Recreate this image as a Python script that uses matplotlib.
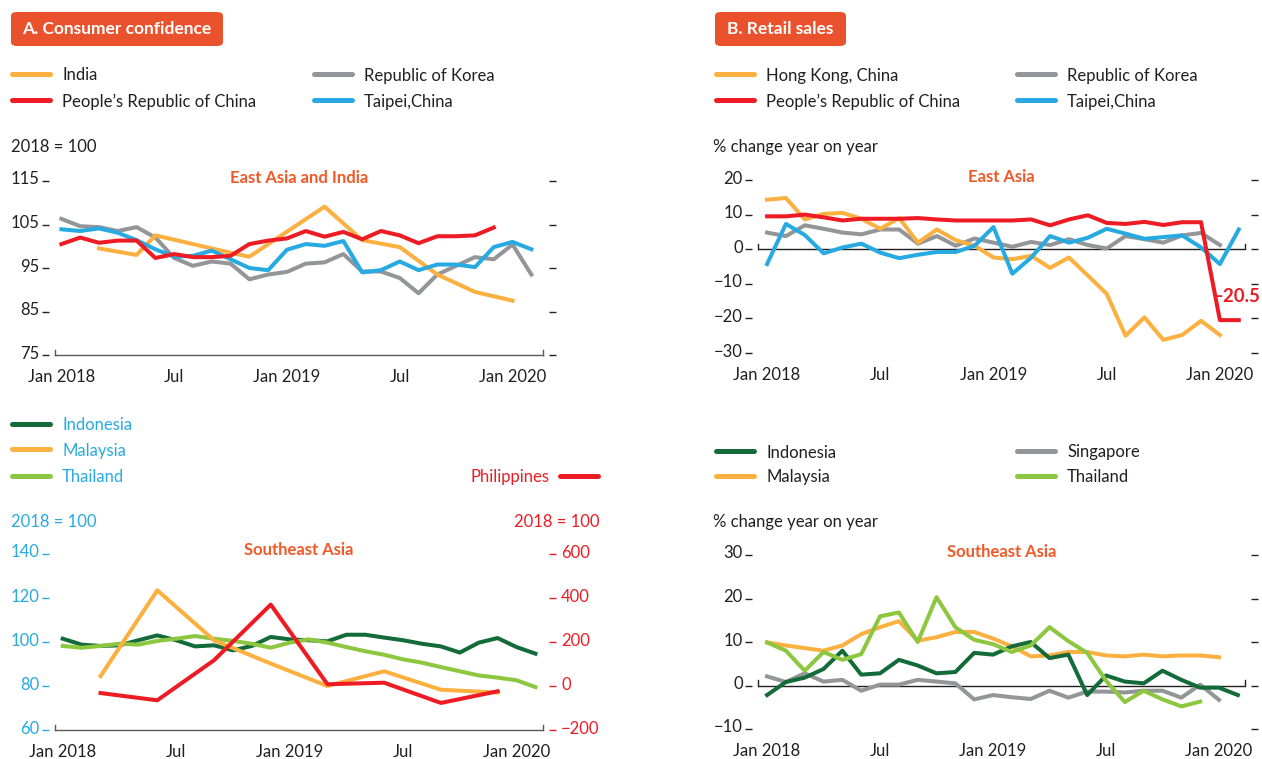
import numpy as np
import matplotlib
matplotlib.use("Agg")
import matplotlib.pyplot as plt
from matplotlib.lines import Line2D
from matplotlib.patches import FancyBboxPatch
from matplotlib.transforms import blended_transform_factory, ScaledTranslation

plt.rcParams['font.family'] = ['Lato', 'DejaVu Sans']

# ---- data (month index 0 = Jan 2018) ----
xtick_pos = [0, 6, 12, 18, 24]
xtick_labels = ['Jan 2018', 'Jul', 'Jan 2019', 'Jul', 'Jan 2020']

# A. consumer confidence, East Asia and India (2018 = 100)
india_m = [2, 4, 5, 9, 10, 14, 16, 18, 20, 22, 24]
india_cc = [99.5, 98, 102.5, 98.5, 97.6, 109.1, 101.4, 99.8, 93.5, 89.5, 87.5]
prc_cc = [100.5, 102, 100.8, 101.3, 101.3, 97.3, 98.2, 97.5, 97.5, 97.8, 100.5, 101.3,
          101.8, 103.5, 102.2, 103.3, 101.6, 103.5, 102.5, 100.7, 102.3, 102.3, 102.5, 104.3]
korea_cc = [106.3, 104.6, 104.4, 103.5, 104.4, 102, 97.3, 95.5, 96.5, 96, 92.4, 93.5,
            94.1, 96, 96.3, 98.2, 94.2, 94.2, 92.7, 89.2, 93.5, 95.5, 97.5, 97, 100.4, 93.5]
taipei_cc = [103.9, 103.5, 104.1, 103.1, 101.4, 99.3, 97.6, 97.8, 99, 97, 95, 94.5,
             99.2, 100.5, 100.1, 101.2, 94, 94.5, 96.5, 94.5, 95.8, 95.8, 95.2, 99.8, 101, 99.3]

# B. retail sales, East Asia (% yoy)
hk_rs = [14.3, 14.8, 8.6, 10.2, 10.5, 8.8, 5.9, 9, 1.9, 5.7, 2.6, 1, -2.4, -2.9, -1.9,
         -5.4, -2.4, -7.6, -12.9, -25, -19.7, -26.2, -24.8, -20.7, -24.8]
prc_rs = [9.5, 9.5, 10, 9.2, 8.3, 8.8, 8.8, 8.8, 9, 8.6, 8.3, 8.3, 8.3, 8.3, 8.6, 6.9,
          8.6, 9.8, 7.6, 7.3, 7.9, 7, 7.8, 7.8, -20.5, -20.5]
korea_rs = [4.8, 3.8, 6.9, 5.9, 4.8, 4.3, 5.7, 5.7, 1.6, 3.8, 1, 3.1, 1.9, 0.7, 2.1, 1.2,
            2.9, 1.2, 0.2, 3.8, 2.9, 1.9, 4, 4.7, 1.2]
taipei_rs = [-4.3, 7.3, 4.1, -1.2, 0.5, 1.6, -1, -2.6, -1.6, -0.8, -0.8, 1, 6.4, -7.1,
             -2.4, 3.8, 1.9, 3.3, 5.9, 4.5, 3, 3.5, 4, 0.5, -4.3, 5.7]

# C. consumer confidence, Southeast Asia
indo_cc = [101.5, 98.8, 98.2, 98.5, 100.8, 103, 100.8, 98, 98.5, 96.2, 98.2, 102.3, 101.2,
           100.8, 100.3, 103.3, 103.3, 102, 100.8, 99.2, 98, 95.2, 99.7, 101.8, 97.7, 94.7]
thai_cc = [98.2, 97.4, 98.2, 99.2, 98.8, 100.5, 101.5, 102.7, 101.5, 100.5, 99.2, 97.4, 99.7,
           101.2, 99.7, 97.7, 95.8, 94.2, 92.1, 90.6, 88.6, 86.7, 84.8, 83.8, 82.6, 79.5]
quarter_m = [2, 5, 8, 11, 14, 17, 20, 23]
mal_cc = [84.5, 123.5, 100.8, 90.2, 80, 86.7, 78.3, 77]
phl_cc = [-32, -65, 117, 370, 8, 15, -77, -24]

# D. retail sales, Southeast Asia (% yoy)
indo_rs = [-2.2, 0.8, 1.8, 3.8, 8, 2.5, 2.8, 5.9, 4.6, 2.8, 3.1, 7.5, 7.1, 9, 10, 6.3, 7.1,
           -2.2, 2.3, 0.9, 0.5, 3.4, 1.3, -0.5, -0.5, -2.2]
mal_rs = [9.9, 9.2, 8.6, 8, 9.2, 11.8, 13.4, 14.8, 10.3, 11.1, 12.3, 12.3, 10.8, 9, 6.7,
          6.9, 7.7, 7.7, 6.9, 6.7, 7.1, 6.7, 6.9, 6.9, 6.5]
thai_rs = [9.9, 8, 3.4, 7.7, 5.9, 7.2, 15.9, 16.8, 10, 20.3, 13.4, 10.5, 9.5, 7.7, 9.2,
           13.4, 10.2, 7.5, 1.1, -3.8, -1.2, -3.2, -4.8, -3.7]
sing_rs = [2.1, 0.8, 2.8, 0.9, 1.3, -1.2, 0.2, 0.2, 1.3, 0.9, 0.5, -3.2, -2.2, -2.7, -3.1,
           -1.2, -2.8, -1.4, -1.4, -1.6, -1.2, -1.2, -2.8, 0.2, -3.3]

# ---- colours ----
ORANGE = '#FBB040'
RED = '#ED1C24'
GRAY = '#939598'
BLUE = '#27AAE1'
DKGREEN = '#146B3A'
LTGREEN = '#8DC63F'
HEAD = '#E9522C'
TXT = '#231F20'
LW = 2.9

W, H = 1262, 759
fig = plt.figure(figsize=(W / 100, H / 100), dpi=100)
lift = ScaledTranslation(0, 3 / 100, fig.dpi_scale_trans)


def fx(x):
    return x / W


def fy(y):
    return 1 - y / H


def add_axes(l, t, r, b):
    return fig.add_axes([fx(l), fy(b), fx(r) - fx(l), (b - t) / H])


def lift_labels(labels):
    # numbers sit a little above their tick dash, as in the original
    for lab in labels:
        lab.set_transform(lab.get_transform() + lift)


def style(ax, xlim, ylim, yticks, zero_line=False, lab_color=TXT, tick_color=TXT,
          right_ticks=True):
    ax.set_xlim(*xlim)
    ax.set_ylim(*ylim)
    ax.set_yticks(yticks)
    ax.set_xticks(xtick_pos, xtick_labels)
    for s in ['top', 'left', 'right']:
        ax.spines[s].set_visible(False)
    ax.spines['left'].set_position(('outward', 4))
    ax.spines['right'].set_position(('outward', 4))
    ax.tick_params(axis='y', left=True, right=right_ticks, length=5, width=1,
                   direction='out', color=tick_color, labelcolor=lab_color,
                   labelsize=12, pad=2)
    for t in ax.yaxis.get_major_ticks():
        t.tick2line.set_color('#808285')
    lift_labels(ax.get_yticklabels())
    ax.tick_params(axis='x', length=0, labelsize=12, labelcolor=TXT, pad=10)
    ax.patch.set_visible(False)
    tr = blended_transform_factory(ax.transAxes, ax.transData)
    if zero_line:
        ax.spines['bottom'].set_visible(False)
        ax.axhline(0, color=TXT, lw=1, zorder=1)
        h = (ylim[1] - ylim[0]) * 0.03
        for xe in (0, 1):
            ax.plot([xe, xe], [0, h], color=TXT, lw=1, transform=tr, clip_on=False)
    else:
        ax.spines['bottom'].set_color('#58595B')
        ax.spines['bottom'].set_linewidth(1)
        for xe in (0, 1):
            ax.plot([xe, xe], [0, 0.03], color='#58595B', lw=1,
                    transform=ax.transAxes, clip_on=False)


def panel_title(ax, text):
    ax.text(0.5, 1.02, text, transform=ax.transAxes, ha='center', va='center',
            fontsize=12, fontweight='bold', color='#EF5A28')


def header(x0, x1, text):
    box = FancyBboxPatch((fx(x0), fy(46)), fx(x1) - fx(x0), (46 - 12) / H,
                         boxstyle='round,pad=0,rounding_size=0.005',
                         transform=fig.transFigure, fc=HEAD, ec='none')
    fig.add_artist(box)
    fig.text(fx((x0 + x1) / 2), fy(29), text, ha='center', va='center',
             fontsize=12.5, fontweight='bold', color='white')


def legend_item(x, y, color, label, tcolor=TXT, text_left=False):
    fig.add_artist(Line2D([fx(x), fx(x + 38)], [fy(y), fy(y)], color=color, lw=3.6,
                          solid_capstyle='round', transform=fig.transFigure))
    if text_left:
        fig.text(fx(x - 10), fy(y + 1.5), label, ha='right', va='center', fontsize=12,
                 color=tcolor)
    else:
        fig.text(fx(x + 50), fy(y + 1.5), label, ha='left', va='center', fontsize=12,
                 color=tcolor)


months = np.arange(26)

# ---- Panel A ----
header(11, 223, 'A. Consumer confidence')
legend_item(12, 74, ORANGE, 'India')
legend_item(12, 100, RED, 'People\u2019s Republic of China')
legend_item(314, 74, GRAY, 'Republic of Korea')
legend_item(314, 100, BLUE, 'Taipei,China')
fig.text(fx(11), fy(147), '2018 = 100', ha='left', va='center', fontsize=12, color=TXT)

axA = add_axes(55, 181, 543, 355)
axA.plot(months[:len(korea_cc)], korea_cc, color=GRAY, lw=LW)
axA.plot(india_m, india_cc, color=ORANGE, lw=LW)
axA.plot(months[:len(taipei_cc)], taipei_cc, color=BLUE, lw=LW)
axA.plot(months[:len(prc_cc)], prc_cc, color=RED, lw=LW)
style(axA, (-0.34, 25.62), (75, 115), [75, 85, 95, 105, 115])
panel_title(axA, 'East Asia and India')

# ---- Panel B ----
header(715, 846, 'B. Retail sales')
legend_item(716, 74, ORANGE, 'Hong Kong, China')
legend_item(716, 100, RED, 'People\u2019s Republic of China')
legend_item(1017, 74, GRAY, 'Republic of Korea')
legend_item(1017, 100, BLUE, 'Taipei,China')
fig.text(fx(713), fy(147), '% change year on year', ha='left', va='center',
         fontsize=12, color=TXT)

axB = add_axes(758, 180, 1245, 353)
axB.plot(months[:len(korea_rs)], korea_rs, color=GRAY, lw=LW)
axB.plot(months[:len(hk_rs)], hk_rs, color=ORANGE, lw=LW)
axB.plot(months[:len(taipei_rs)], taipei_rs, color=BLUE, lw=LW)
axB.plot(months[:len(prc_rs)], prc_rs, color=RED, lw=LW)
style(axB, (-0.48, 25.33), (-30, 20), [-30, -20, -10, 0, 10, 20], zero_line=True)
panel_title(axB, 'East Asia')
axB.text(23.6, -13.8, '\u201320.5', ha='left', va='center', fontsize=13.5,
         color=RED, fontweight='bold')

# ---- Panel C ----
legend_item(12, 424, DKGREEN, 'Indonesia', tcolor=BLUE)
legend_item(12, 449, ORANGE, 'Malaysia', tcolor=BLUE)
legend_item(12, 476, LTGREEN, 'Thailand', tcolor=BLUE)
legend_item(560, 476, RED, 'Philippines', tcolor=RED, text_left=True)
fig.text(fx(11), fy(522), '2018 = 100', ha='left', va='center', fontsize=12, color=BLUE)
fig.text(fx(599), fy(522), '2018 = 100', ha='right', va='center', fontsize=12, color=RED)

axC = add_axes(55, 554, 543, 730)
axC.plot(months[:len(indo_cc)], indo_cc, color=DKGREEN, lw=LW)
axC.plot(months[:len(thai_cc)], thai_cc, color=LTGREEN, lw=LW)
axC.plot(quarter_m, mal_cc, color=ORANGE, lw=LW)
style(axC, (-0.41, 25.4), (60, 140), [60, 80, 100, 120, 140], lab_color=BLUE,
      tick_color=BLUE, right_ticks=False)
axC2 = axC.twinx()
axC2.plot(quarter_m, phl_cc, color=RED, lw=LW)
axC2.set_ylim(-200, 600)
axC2.set_yticks([-200, 0, 200, 400, 600])
for s in ['top', 'left', 'bottom']:
    axC2.spines[s].set_visible(False)
axC2.spines['right'].set_visible(False)
axC2.spines['right'].set_position(('outward', 4))
axC2.tick_params(axis='y', right=True, length=5, width=1, direction='out', color=RED,
                 labelcolor=RED, labelsize=12, pad=4)
lift_labels(axC2.get_yticklabels())
panel_title(axC, 'Southeast Asia')

# ---- Panel D ----
legend_item(716, 451, DKGREEN, 'Indonesia')
legend_item(716, 476, ORANGE, 'Malaysia')
legend_item(1017, 451, GRAY, 'Singapore')
legend_item(1017, 476, LTGREEN, 'Thailand')
fig.text(fx(713), fy(522), '% change year on year', ha='left', va='center',
         fontsize=12, color=TXT)

axD = add_axes(758, 555, 1245, 729)
axD.plot(months[:len(sing_rs)], sing_rs, color=GRAY, lw=LW)
axD.plot(months[:len(mal_rs)], mal_rs, color=ORANGE, lw=LW)
axD.plot(months[:len(indo_rs)], indo_rs, color=DKGREEN, lw=LW)
axD.plot(months[:len(thai_rs)], thai_rs, color=LTGREEN, lw=LW)
style(axD, (-0.48, 25.38), (-10, 30), [-10, 0, 10, 20, 30], zero_line=True)
panel_title(axD, 'Southeast Asia')

fig.savefig('out.png', dpi=100)
